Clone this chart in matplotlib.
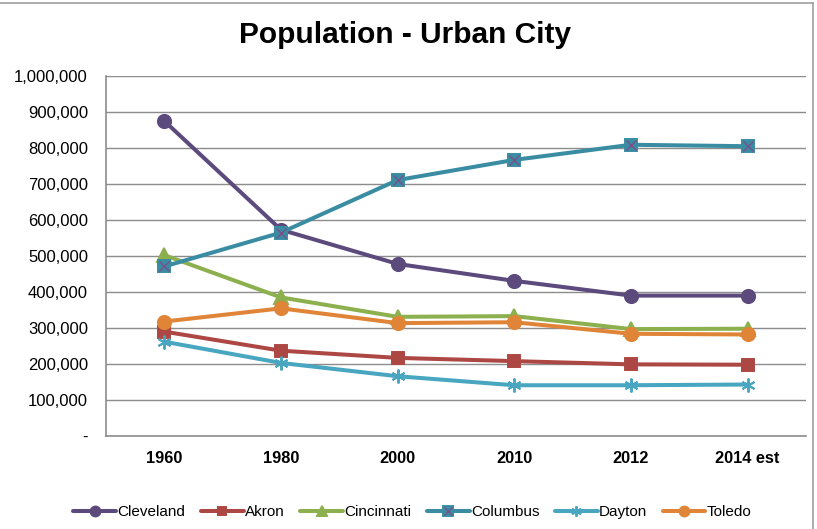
import matplotlib
matplotlib.use("Agg")
import matplotlib.pyplot as plt
from matplotlib.lines import Line2D
from matplotlib.ticker import FuncFormatter

# ── Data ─────────────────────────────────────────────────────────────────────
years = ["1960", "1980", "2000", "2010", "2012", "2014 est"]

cleveland  = [875000, 573000, 478000, 431000, 390000, 390000]
akron      = [290000, 237000, 217000, 208000, 199000, 198000]
cincinnati = [502500, 385000, 331000, 333000, 297000, 298000]
columbus   = [471000, 565000, 711000, 767000, 809000, 805000]
dayton     = [262000, 203000, 166000, 141000, 141000, 143000]
toledo     = [318000, 354600, 313600, 316000, 284000, 282000]

plt.rcParams["font.family"] = ["Liberation Sans", "DejaVu Sans"]

fig = plt.figure(figsize=(8.17, 5.29), dpi=100)
ax = fig.add_axes([0.1297, 0.1758, 0.8568, 0.6805])

x = list(range(len(years)))

series = [
    ("Cleveland",  cleveland,  "#5C4A7D", "o", 9.5),
    ("Akron",      akron,      "#AD4744", "s", 8.5),
    ("Cincinnati", cincinnati, "#8DB04E", "^", 9.5),
    ("Columbus",   columbus,   "#3A8CA3", "s", 9),
    ("Dayton",     dayton,     "#48A6C0", (6, 2, 0), 10),
    ("Toledo",     toledo,     "#E08538", "o", 9.5),
]

handles = []
for name, vals, col, mk, ms in series:
    ln, = ax.plot(x, vals, color=col, lw=2.9, marker=mk, ms=ms,
                  mec=col, mfc=col, mew=1.4, solid_capstyle="round", zorder=3)
    h = ln
    if name == "Columbus":
        xm, = ax.plot(x, vals, ls="none", marker="x", ms=7, mew=1.0,
                      color="#7A4F8A", zorder=4)
        h = (ln, xm)
    handles.append(h)

# ── Axes styling ──────────────────────────────────────────────────────────────
ax.set_xlim(-0.5, len(years) - 0.5)
ax.set_ylim(0, 1000000)
ax.set_yticks(range(0, 1000001, 100000))
ax.yaxis.set_major_formatter(FuncFormatter(lambda v, p: "-" if v == 0 else f"{int(v):,}"))
ax.set_xticks(x)
ax.set_xticklabels(years, fontweight="bold", fontsize=11.8)
ax.tick_params(axis="y", length=0, pad=13, labelsize=12)
ax.tick_params(axis="x", length=0, pad=11)

ax.grid(axis="y", color="#8C8C8C", lw=1.0)
ax.set_axisbelow(True)
for s in ["top", "right"]:
    ax.spines[s].set_visible(False)
for s in ["left", "bottom"]:
    ax.spines[s].set_color("#8C8C8C")
    ax.spines[s].set_linewidth(1.2)

fig.text(0.496, 0.934, "Population - Urban City", ha="center", va="center",
         fontsize=21.5, fontweight="bold")

fig.legend(handles, [s[0] for s in series], loc="center", ncol=6,
           bbox_to_anchor=(0.505, 0.032), frameon=False, fontsize=11,
           handlelength=2.8, handletextpad=0.1, columnspacing=1.0,
           markerscale=0.75)

# chart border (top and right edges visible in the reference)
fig.add_artist(Line2D([0, 0.995], [0.994, 0.994], color="#A0A0A0", lw=1.2,
                      transform=fig.transFigure))
fig.add_artist(Line2D([0.995, 0.995], [0.0, 0.994], color="#A0A0A0", lw=1.2,
                      transform=fig.transFigure))

fig.savefig("out.png", dpi=100)
